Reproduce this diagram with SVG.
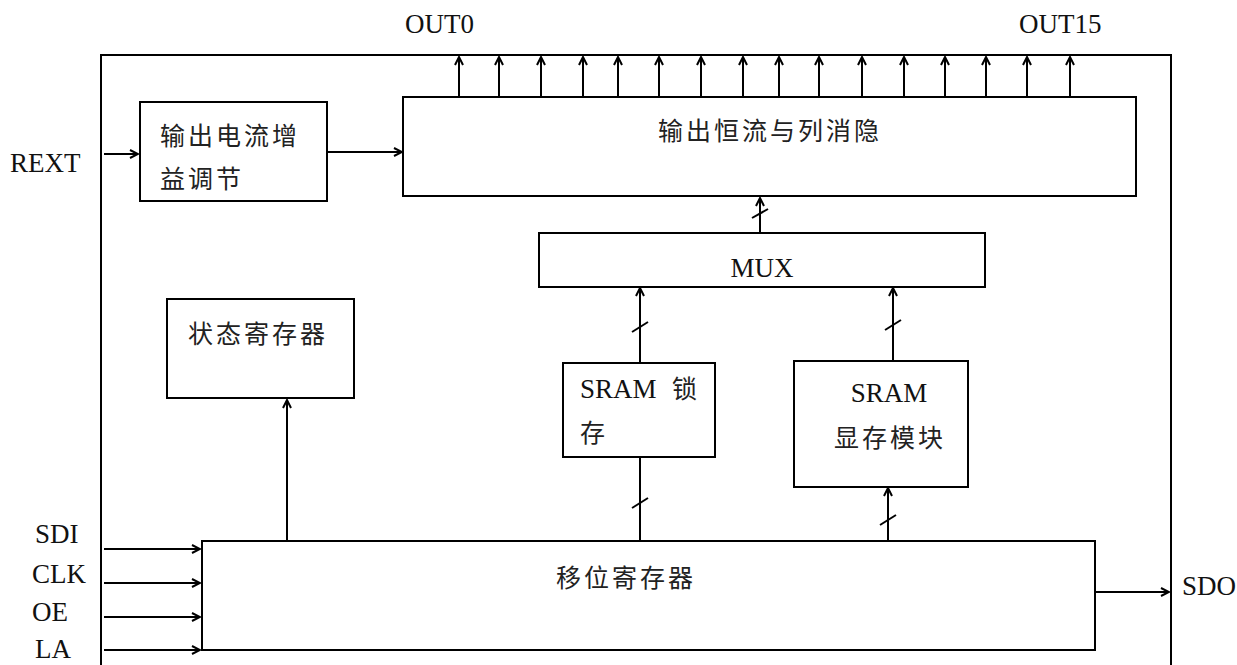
<svg xmlns="http://www.w3.org/2000/svg" width="1237" height="665" viewBox="0 0 1237 665">
<defs>
<marker id="arr" markerWidth="12" markerHeight="10" refX="10" refY="5" orient="auto" markerUnits="userSpaceOnUse">
<polyline points="2,1 10,5 2,9" fill="none" stroke="#000" stroke-width="2"/>
</marker>
</defs>
<style>
.box{fill:#fff;stroke:#000;stroke-width:2}
.ln{fill:none;stroke:#000;stroke-width:2}
.ar{fill:none;stroke:#000;stroke-width:2;marker-end:url(#arr)}
.lat{font-family:"Liberation Serif","Times New Roman",serif;font-size:27px;fill:#111}
.cjk{font-family:"Noto Sans CJK SC","Noto Sans CJK JP",sans-serif;font-size:25px;fill:#222;letter-spacing:3px}
</style>
<rect width="1237" height="665" fill="#fff"/>
<path id="frame" class="ln" d="M101,665 V55 H1171 V665"/>

<g id="labels">
<text class="lat" x="405" y="33">OUT0</text>
<text class="lat" x="1019" y="33">OUT15</text>
<text class="lat" x="10" y="172">REXT</text>
<text class="lat" x="35" y="543">SDI</text>
<text class="lat" x="32" y="583">CLK</text>
<text class="lat" x="32" y="621">OE</text>
<text class="lat" x="35" y="658">LA</text>
<text class="lat" x="1182" y="595">SDO</text>
</g>

<g id="gain">
<rect class="box" x="140" y="102" width="187" height="99"/>
<text class="cjk" x="160" y="145">输出电流增</text>
<text class="cjk" x="160" y="188">益调节</text>
</g>

<g id="output">
<rect class="box" x="403" y="97" width="733" height="99"/>
<text class="cjk" x="658" y="140">输出恒流与列消隐</text>
</g>

<g id="mux">
<rect class="box" x="539" y="233" width="446" height="54"/>
<text class="lat" x="762" y="277" text-anchor="middle">MUX</text>
</g>

<g id="status">
<rect class="box" x="167" y="299" width="187" height="99"/>
<text class="cjk" x="188" y="343">状态寄存器</text>
</g>

<g id="latch">
<rect class="box" x="563" y="363" width="152" height="94"/>
<text class="lat" x="580" y="398">SRAM</text>
<text class="cjk" x="672" y="398">锁</text>
<text class="cjk" x="580" y="442">存</text>
</g>

<g id="vram">
<rect class="box" x="794" y="361" width="174" height="126"/>
<text class="lat" x="889" y="402" text-anchor="middle">SRAM</text>
<text class="cjk" x="834" y="447">显存模块</text>
</g>

<g id="shift">
<rect class="box" x="202" y="541" width="893" height="109"/>
<text class="cjk" x="556" y="587">移位寄存器</text>
</g>

<g id="connectors">
<line class="ar" x1="459" y1="97" x2="459" y2="57"/>
<line class="ar" x1="499" y1="97" x2="499" y2="57"/>
<line class="ar" x1="541" y1="97" x2="541" y2="57"/>
<line class="ar" x1="583" y1="97" x2="583" y2="57"/>
<line class="ar" x1="618" y1="97" x2="618" y2="57"/>
<line class="ar" x1="659" y1="97" x2="659" y2="57"/>
<line class="ar" x1="701" y1="97" x2="701" y2="57"/>
<line class="ar" x1="743" y1="97" x2="743" y2="57"/>
<line class="ar" x1="779" y1="97" x2="779" y2="57"/>
<line class="ar" x1="819" y1="97" x2="819" y2="57"/>
<line class="ar" x1="862" y1="97" x2="862" y2="57"/>
<line class="ar" x1="904" y1="97" x2="904" y2="57"/>
<line class="ar" x1="945" y1="97" x2="945" y2="57"/>
<line class="ar" x1="986" y1="97" x2="986" y2="57"/>
<line class="ar" x1="1027" y1="97" x2="1027" y2="57"/>
<line class="ar" x1="1070" y1="97" x2="1070" y2="57"/>

<line class="ar" x1="104" y1="154" x2="138" y2="154"/>
<line class="ar" x1="328" y1="152" x2="402" y2="152"/>

<line class="ar" x1="760" y1="233" x2="760" y2="198"/>
<line class="ln" x1="752" y1="218" x2="768" y2="209"/>

<line class="ar" x1="640" y1="363" x2="640" y2="288"/>
<line class="ln" x1="632" y1="332" x2="648" y2="322"/>
<line class="ln" x1="640" y1="457" x2="640" y2="541"/>
<line class="ln" x1="632" y1="508" x2="648" y2="498"/>

<line class="ar" x1="893" y1="361" x2="893" y2="288"/>
<line class="ln" x1="885" y1="330" x2="901" y2="320"/>
<line class="ar" x1="888" y1="541" x2="888" y2="488"/>
<line class="ln" x1="880" y1="525" x2="896" y2="515"/>

<line class="ar" x1="287" y1="541" x2="287" y2="400"/>

<line class="ar" x1="104" y1="549" x2="200" y2="549"/>
<line class="ar" x1="104" y1="583" x2="200" y2="583"/>
<line class="ar" x1="104" y1="617" x2="200" y2="617"/>
<line class="ar" x1="104" y1="650" x2="200" y2="650"/>

<line class="ar" x1="1096" y1="592" x2="1169" y2="592"/>
</g>
</svg>
